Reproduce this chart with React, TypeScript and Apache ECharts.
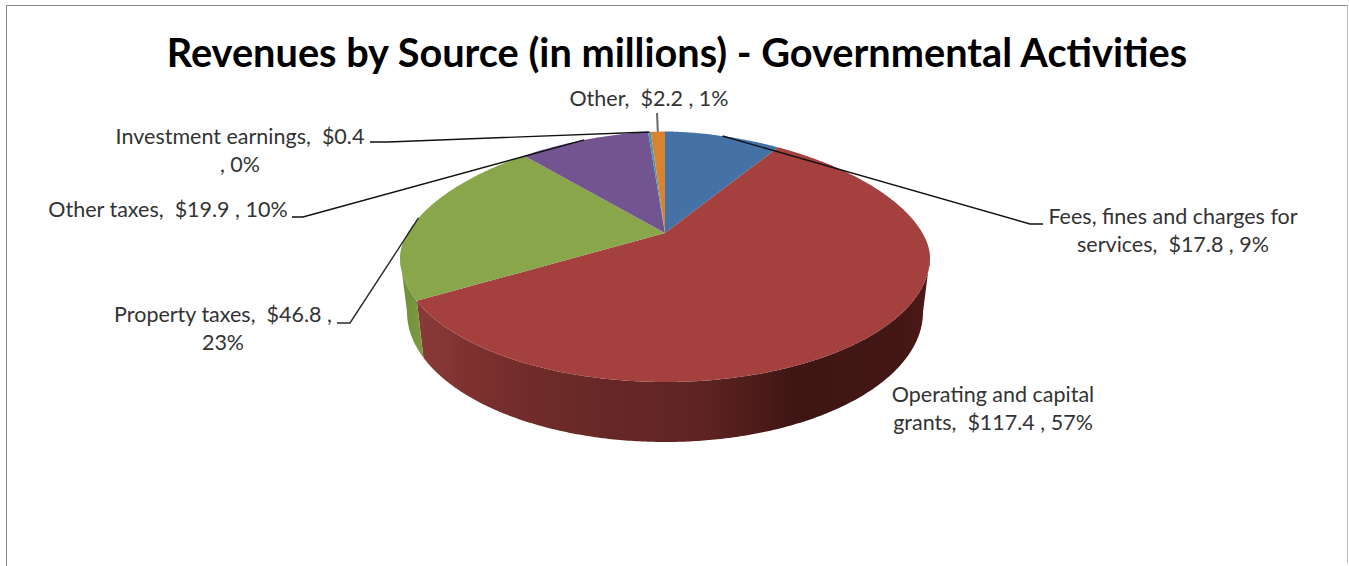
import React, { useEffect, useRef } from "react";
import * as echarts from "echarts";

// Revenue sources, in millions of dollars, clockwise from twelve o'clock.
const categories = [
  "Fees, fines and charges for services",
  "Operating and capital grants",
  "Property taxes",
  "Other taxes",
  "Investment earnings",
  "Other",
];
const amounts = [17.8, 117.4, 46.8, 19.9, 0.4, 2.2];
const sliceColors = ["#4471a6", "#a4403e", "#89a64a", "#715490", "#4198af", "#d9822f"];
const chartTitle = "Revenues by Source (in millions) - Governmental Activities";

// Where each label wraps, and the phrase that ends its first line.
const labelBreaks = [
  "Fees, fines and charges for",
  "Operating and capital",
  "Property taxes,  $46.8 ,",
  null,
  "Investment earnings,  $0.4",
  null,
];

// Label placement (centre x, first-line top y) and the elbow of each leader line.
const labelLayout = [
  { x: 1173, y: 202, elbow: [[1043, 224], [1030, 224]] },
  { x: 993, y: 380, elbow: null },
  { x: 223, y: 300, elbow: [[337, 323], [350, 323]] },
  { x: 168, y: 195, elbow: [[292, 217], [303, 217]] },
  { x: 240, y: 122, elbow: [[370, 142], [388, 142]] },
  { x: 649, y: 84, elbow: [[657, 113]] },
];
const leaderColors = ["#111111", "", "#2a2a2a", "#111111", "#111111", "#6a6a6a"];

// Perspective disc: the apex sits above the centre of the rim curve.
const apex = { x: 665, y: 233 };
const topRim = { cx: 665, cy: 257, rx: 265, ryUp: 125.5, ryDown: 125, n: 1.8 };
const bottomRim = { cx: 665, cy: 312, rx: 258, ryUp: 120, ryDown: 130, n: 2 };
const tilt = -0.22;
const TAU = Math.PI * 2;

const total = amounts.reduce((a, b) => a + b, 0);
const starts: number[] = [];
amounts.reduce((sum, v, i) => {
  starts[i] = (sum / total) * TAU;
  return sum + v;
}, 0);
const endAngle = (i: number) => starts[i] + (amounts[i] / total) * TAU;

type Rim = typeof topRim;
function rimPoint(theta: number, rim: Rim): number[] {
  const u = Math.sin(theta);
  const v = -Math.cos(theta);
  const scale = Math.sqrt(1 - tilt * tilt);
  const dx = (rim.rx * scale * u) / (1 + tilt * v);
  const d = Math.min(1, Math.abs(dx) / rim.rx);
  const upper = v < -tilt;
  const n = upper ? rim.n : 2;
  const h = Math.pow(Math.max(0, 1 - Math.pow(d, n)), 1 / n);
  return [rim.cx + dx, upper ? rim.cy - rim.ryUp * h : rim.cy + rim.ryDown * h];
}

function rimArc(a: number, b: number, rim: Rim): number[][] {
  const steps = Math.max(2, Math.ceil((b - a) / (Math.PI / 360)));
  const pts: number[][] = [];
  for (let k = 0; k <= steps; k++) pts.push(rimPoint(a + ((b - a) * k) / steps, rim));
  return pts;
}

// The wall is visible only between the rim's two widest points.
const wallFrom = Math.acos(tilt);
const wallTo = TAU - wallFrom;

const wallFills: Record<number, [number, string][]> = {
  1: [
    [0, "#8a3b38"],
    [0.12, "#7b302e"],
    [0.24, "#6f2b29"],
    [0.37, "#662827"],
    [0.55, "#5f2422"],
    [0.65, "#4e1c1a"],
    [0.73, "#3f1614"],
    [0.94, "#431715"],
    [1, "#4e1a18"],
  ],
  2: [
    [0, "#6e8c3a"],
    [1, "#7d9c42"],
  ],
};

function labelText(i: number): string {
  const pct = Math.round((amounts[i] / total) * 100);
  const full = `${categories[i]},  $${amounts[i].toFixed(1)} , ${pct}%`;
  const head = labelBreaks[i];
  if (!head) return full;
  return `${head}\n${full.slice(head.length).trim()}`;
}

function renderSlice(params: any) {
  const i = params.dataIndex;
  const a = starts[i];
  const b = endAngle(i);
  const children: any[] = [];

  const wa = Math.max(a, wallFrom);
  const wb = Math.min(b, wallTo);
  if (wb > wa && wallFills[i]) {
    const pts = [...rimArc(wa, wb, topRim), ...rimArc(wa, wb, bottomRim).reverse()];
    children.push({
      type: "polygon",
      z2: 1,
      shape: { points: pts },
      style: { fill: new echarts.graphic.LinearGradient(0, 0, 1, 0, wallFills[i].map(([offset, color]) => ({ offset, color }))) },
    });
  }

  children.push({
    type: "polygon",
    z2: 2,
    shape: { points: [[apex.x, apex.y], ...rimArc(a, b, topRim)] },
    style: { fill: sliceColors[i] },
  });

  const layout = labelLayout[i];
  if (layout.elbow) {
    const tip = rimPoint((a + b) / 2, topRim);
    children.push({
      type: "polyline",
      z2: 3,
      shape: { points: [...layout.elbow, tip] },
      style: { fill: "none", stroke: leaderColors[i], lineWidth: i === 5 ? 2 : 1.4 },
    });
  }

  children.push({
    type: "text",
    z2: 4,
    x: layout.x,
    y: layout.y,
    style: {
      text: labelText(i),
      fill: "#333333",
      font: '21.5px Lato, "Noto Sans", sans-serif',
      align: "center",
      verticalAlign: "top",
      lineHeight: 28,
    },
  });

  return { type: "group", children };
}

export default function App() {
  const ref = useRef<HTMLDivElement>(null);

  useEffect(() => {
    const chart = echarts.init(ref.current!, null, { renderer: "svg" });
    chart.setOption({
      animation: false,
      backgroundColor: "#ffffff",
      title: {
        text: chartTitle,
        left: 672,
        top: 26,
        textAlign: "center",
        textStyle: {
          fontFamily: 'Lato, "Noto Sans", sans-serif',
          fontSize: 39.7,
          fontWeight: "bold",
          color: "#000000",
        },
      },
      graphic: [
        { type: "line", shape: { x1: 6.5, y1: 5.5, x2: 1347, y2: 5.5 }, style: { stroke: "#8a8a8a", lineWidth: 1 } },
        { type: "line", shape: { x1: 6.5, y1: 5, x2: 6.5, y2: 566 }, style: { stroke: "#8a8a8a", lineWidth: 1 } },
        { type: "line", shape: { x1: 1347.5, y1: 5, x2: 1347.5, y2: 563 }, style: { stroke: "#bdbdbd", lineWidth: 1 } },
      ],
      series: [
        {
          type: "custom",
          coordinateSystem: "none",
          silent: true,
          data: amounts.map((v) => [v]),
          renderItem: renderSlice,
        },
      ],
    });
    return () => chart.dispose();
  }, []);

  return <div ref={ref} style={{ position: "absolute", left: 0, top: 0, width: 1349, height: 566 }} />;
}
